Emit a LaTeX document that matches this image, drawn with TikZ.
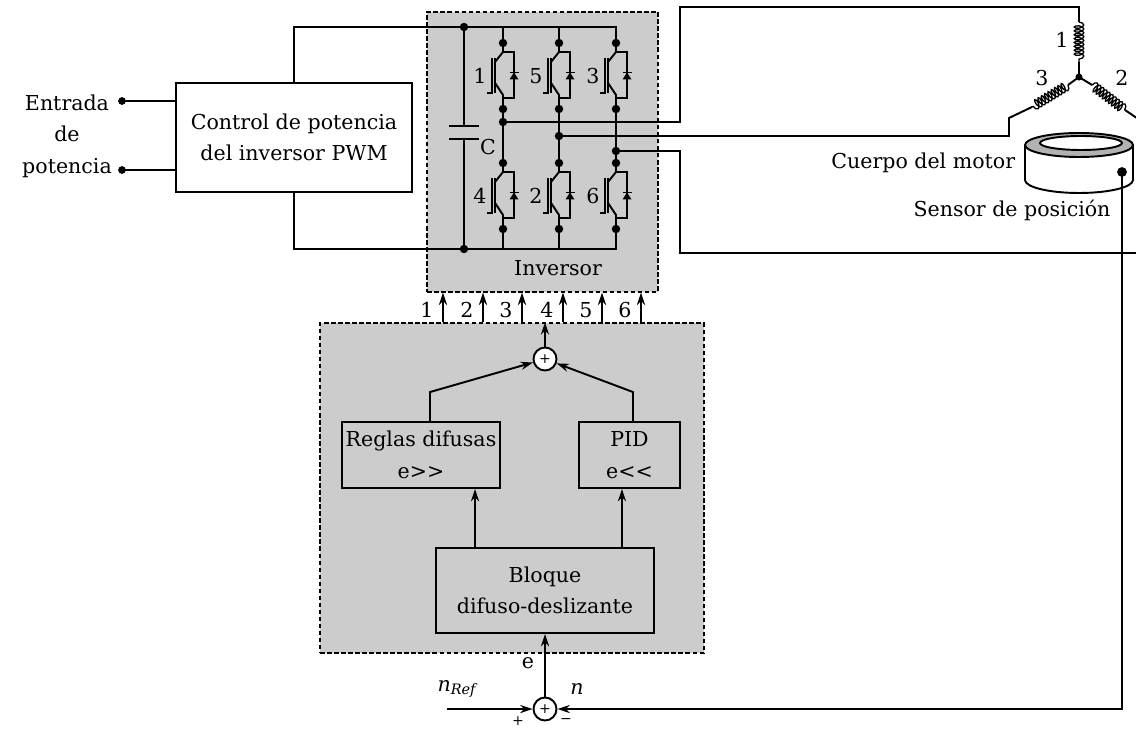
\documentclass[tikz,border=0pt]{standalone}
\usepackage{fontspec}
\setmainfont{DejaVu Serif}
\usetikzlibrary{arrows.meta,decorations.pathmorphing,positioning}

% one switch of the bridge: IGBT with its free-wheeling diode
\tikzset{
  pics/igbt/.style={code={
    \draw (0,-33) -- (0,-24) -- (-8,-14);
    \draw (-8,7) -- (0,19) -- (0,33);
    \draw (-8,-18) -- (-8,17);
    \draw (-11,-18) -- (-11,17) -- (-16,17);
    \draw (0,-24) -- (11,-24) -- (11,22) -- (0,22);
    \fill (6.5,3.5) -- (15.5,3.5) -- (11,-3.5) -- cycle;
    \draw (6.5,-3.5) -- (15.5,-3.5);
    \fill (0,-33) circle (2.4pt) (0,33) circle (2.4pt);
    \coordinate (-c) at (0,-33);
    \coordinate (-e) at (0,33);
    \node at (-23,0) {#1};
  }}
}

\begin{document}
\begin{tikzpicture}[x=0.02cm, y=-0.02cm, line width=1.1pt,
    font=\fontsize{11.7}{18}\selectfont,
    sig/.style={-{Stealth[length=7pt,width=4.6pt]}},
    blk/.style={draw, align=center, inner sep=0pt},
    zone/.style={draw, fill=black!20, dash pattern=on 2.6pt off 1.4pt, line width=0.8pt, inner sep=0pt},
    sum/.style={draw, circle, fill=white, minimum size=0.46cm, inner sep=0pt, font=\footnotesize},
    winding/.style={decorate, line width=0.75pt, decoration={coil, aspect=0.45, amplitude=2.7pt, segment length=2.2pt}}]

  \useasboundingbox (0,0) rectangle (1136,729);
  \clip (0,0) rectangle (1136,729);

  % power input and PWM power control
  \node[blk, minimum width=4.72cm, minimum height=2.18cm] (ctrl) at (294,137.5) {Control de potencia\\del inversor PWM};
  \node[align=center] (entrada) at (67,136) {Entrada\\de\\potencia};
  \coordinate (in1) at (122,101);
  \coordinate (in2) at (122,170);
  \draw (in1) -- (in1 -| ctrl.west);
  \draw (in2) -- (in2 -| ctrl.west);
  \fill (in1) circle (2.2pt) (in2) circle (2.2pt);

  % inverter
  \node[zone, minimum width=4.62cm, minimum height=5.6cm] (inv) at (542.5,152) {};
  \node (invlbl) at (558,268) {Inversor};
  \coordinate (capT) at (464,27);
  \coordinate (capB) at (464,249);
  \pic (q1) at (503,76) {igbt=1};
  \pic (q5) at (559,76) {igbt=5};
  \pic (q3) at (616,76) {igbt=3};
  \pic (q4) at (503,196) {igbt=4};
  \pic (q2) at (559,196) {igbt=2};
  \pic (q6) at (616,196) {igbt=6};
  \draw (ctrl.north) |- (capT) -- (capT -| q3-c) -- (q3-c);
  \draw (ctrl.south) |- (capB) -- (capB -| q6-e) -- (q6-e);
  \foreach \q in {q1,q5} \draw (\q-c |- capT) -- (\q-c);
  \foreach \q in {q4,q2} \draw (\q-e) -- (\q-e |- capB);
  \draw (q1-e) -- (q4-c);
  \draw (q5-e) -- (q2-c);
  \draw (q3-e) -- (q6-c);
  \coordinate (ph1) at (503,122);
  \coordinate (ph2) at (559,136);
  \coordinate (ph3) at (616,151);
  \fill (capT) circle (2.4pt) (capB) circle (2.4pt);
  \fill (ph1) circle (2.4pt) (ph2) circle (2.4pt) (ph3) circle (2.4pt);
  % dc link capacitor
  \draw (capT) -- (464,126) (464,139) -- (capB);
  \draw (449,126) -- (479,126) (449,139) -- (479,139);
  \node (clbl) at (488,147) {C};

  % controller
  \node[zone, minimum width=7.68cm, minimum height=6.6cm] (ctl) at (512,488) {};
  \foreach \i/\x in {1/443,2/483,3/522,4/563,5/602,6/641} {
    \draw[sig] (ctl.north -| \x,0) -- (inv.south -| \x,0);
    \node at (\x-16,310) {\i};
  }
  \node[sum] (s1) at (545,359) {+};
  \draw[sig] (s1) -- (s1 |- ctl.north);
  \node[blk, minimum width=3.16cm, minimum height=1.32cm] (reglas) at (421,455) {Reglas difusas\\e>{}>};
  \node[blk, minimum width=2.02cm, minimum height=1.32cm] (pid) at (629.5,455) {PID\\e<{}<};
  \node[blk, minimum width=4.36cm, minimum height=1.7cm] (bloque) at (545,590.5) {Bloque\\difuso-deslizante};
  \draw[sig] ([xshift=0.18cm]reglas.north) -- ++(0,-29) -- (s1);
  \draw[sig] ([xshift=0.07cm]pid.north) -- ++(0,-29) -- (s1);
  \coordinate (b1) at ([xshift=-1.4cm]bloque.north);
  \coordinate (b2) at ([xshift=1.54cm]bloque.north);
  \draw[sig] (b1) -- (b1 |- reglas.south);
  \draw[sig] (b2) -- (b2 |- pid.south);

  % speed error
  \node[sum] (s2) at (545,709) {+};
  \draw[sig] (s2) -- (bloque.south);
  \node (elbl) at (528,663) {e};
  \coordinate (nref) at (447,709);
  \draw[sig] (nref) -- (s2);
  \node (nreflbl) at (458,689) {\textit{n}\textsubscript{\textit{Ref}}};
  \node (nlbl) at (577,689) {\textit{n}};
  \node[font=\footnotesize, inner sep=0pt] at (518,721) {+};
  \node[font=\footnotesize, inner sep=0pt] at (566,721) {−};

  % motor windings
  \coordinate (star) at (1079,77);
  \coordinate (w1a) at (1079,22);
  \coordinate (w1b) at (1079,62);
  \coordinate (w3a) at (1068,85);
  \coordinate (w3b) at (1032,107);
  \coordinate (w2a) at (1092,85);
  \coordinate (w2b) at (1125,110);
  \draw (ph1) -| (680,7) -| (w1a);
  \draw[winding] (w1a) -- (w1b);
  \draw (w1b) -- (star) -- (w3a) (star) -- (w2a);
  \draw[winding] (w3a) -- (w3b);
  \draw[winding] (w2a) -- (w2b);
  \draw (w3b) -- (1009,118) -- (1009,136) -- (ph2);
  \draw (w2b) -- (1150,127);
  \draw (ph3) -| (680,253) -- (1150,253);
  \fill (star) circle (2pt);
  \node at (1062,40) {1};
  \node at (1042,78) {3};
  \node at (1122,78) {2};

  % motor body and position sensor
  \filldraw[fill=white] (1079,180) ellipse [x radius=1.08cm, y radius=0.26cm];
  \fill[white] (1025,145) rectangle (1133,180);
  \draw (1025,145) -- (1025,180) (1133,145) -- (1133,180);
  \filldraw[fill=black!30] (1079,145) ellipse [x radius=1.08cm, y radius=0.24cm];
  \filldraw[fill=white] (1081,143) ellipse [x radius=0.82cm, y radius=0.14cm];
  \node[anchor=east] (cuerpo) at (1022,163) {Cuerpo del motor};
  \node (sensor) at (1012,210) {Sensor de posición};
  \coordinate (sens) at (1122,172);
  \draw[sig] (sens) |- (s2);
  \fill (sens) circle (2.8pt);
\end{tikzpicture}
\end{document}
